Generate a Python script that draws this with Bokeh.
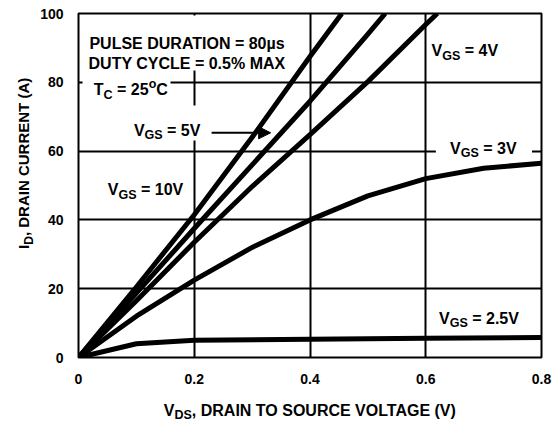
from math import pi
from bokeh.plotting import figure
from bokeh.models import Range1d, Label, Arrow, NormalHead
from bokeh.layouts import column, row
from bokeh.embed import file_html
from bokeh.resources import INLINE

# ---- data ----
VDS_10V = [0, 0.1, 0.2, 0.3, 0.4, 0.455]
ID_10V = [0, 20.5, 41.5, 64, 87.5, 100]
VDS_5V = [0, 0.1, 0.2, 0.3, 0.4, 0.5, 0.53]
ID_5V = [0, 18.7, 37.5, 56, 74.5, 94, 100]
VDS_4V = [0, 0.1, 0.2, 0.3, 0.4, 0.5, 0.6, 0.62]
ID_4V = [0, 16.5, 33.5, 49.7, 64.8, 80.2, 96.8, 100]
VDS_3V = [0, 0.1, 0.2, 0.3, 0.4, 0.5, 0.6, 0.7, 0.8]
ID_3V = [0, 12, 22.5, 32, 40, 47, 52, 55, 56.5]
VDS_25V = [0, 0.1, 0.2, 0.4, 0.6, 0.8]
ID_25V = [0, 4, 5, 5.3, 5.6, 5.8]

X_TICKS = [0, 0.2, 0.4, 0.6, 0.8]
X_TICK_LABELS = ["0", "0.2", "0.4", "0.6", "0.8"]
Y_TICKS = [0, 20, 40, 60, 80, 100]
Y_TICK_LABELS = ["0", "20", "40", "60", "80", "100"]

FONT = "Liberation Sans"
NB = "\u00a0"

# Arial/Liberation Sans Bold advance widths (per 1000 em)
AW = {" ": 278, NB: 278, ",": 278, ".": 278, "(": 333, ")": 333, "=": 584, "%": 889,
      "o": 611, "s": 556}
for c in "0123456789":
    AW[c] = 556
AW.update({"A": 722, "B": 722, "C": 722, "D": 722, "E": 667, "F": 611, "G": 778,
           "H": 722, "I": 278, "L": 611, "M": 833, "N": 722, "O": 778, "P": 667,
           "R": 722, "S": 667, "T": 611, "U": 722, "V": 667, "X": 667, "Y": 667})


def tw(s, size):
    return sum(AW.get(c, 600) for c in s) * size / 1000.0


def rich(p, x, y, parts, size=16, sub_size=12.5, rotated=False):
    off = 0.0
    for text, kind in parts:
        text = text.replace(" ", NB)
        fs = size if kind == "n" else sub_size
        dy = 0 if kind == "n" else (-5 if kind == "sub" else 6)
        if not rotated:
            lab = Label(x=x, y=y, x_offset=off, y_offset=dy, text=text)
        else:
            lab = Label(x=x, y=y, x_offset=-dy, y_offset=off, text=text, angle=pi / 2)
        lab.text_font = FONT
        lab.text_font_style = "bold"
        lab.text_font_size = f"{fs}px"
        lab.text_color = "black"
        lab.text_align = "left"
        lab.text_baseline = "alphabetic"
        p.add_layout(lab)
        off += tw(text, fs)


def blank(w, h):
    f = figure(width=w, height=h, x_range=Range1d(0, w), y_range=Range1d(0, h),
               output_backend="svg", toolbar_location=None, min_border=0,
               x_axis_location=None, y_axis_location=None)
    f.outline_line_color = None
    f.grid.visible = False
    f.background_fill_color = "white"
    f.border_fill_color = "white"
    return f


YW = 34
PW = 525
MAIN_H = 397
XH = 25

p = figure(width=PW, height=MAIN_H, x_range=Range1d(0, 0.8), y_range=Range1d(0, 100),
           output_backend="svg", toolbar_location=None,
           min_border_left=44, min_border_right=18, min_border_top=13, min_border_bottom=40)
p.background_fill_color = "white"
p.border_fill_color = "white"
p.outline_line_color = "black"
p.outline_line_width = 2
p.outline_line_alpha = 1

p.xaxis.ticker = X_TICKS
p.yaxis.ticker = Y_TICKS
p.xaxis.major_label_overrides = dict(zip(X_TICKS, X_TICK_LABELS))
p.yaxis.major_label_overrides = dict(zip(Y_TICKS, Y_TICK_LABELS))
for ax in (p.xaxis, p.yaxis):
    ax.axis_line_color = None
    ax.major_tick_line_color = None
    ax.minor_tick_line_color = None
    ax.major_tick_in = 0
    ax.major_tick_out = 0
    ax.major_label_text_font = FONT
    ax.major_label_text_font_style = "bold"
    ax.major_label_text_font_size = "14px"
    ax.major_label_text_color = "black"
p.yaxis.major_label_standoff = 15
p.xaxis.major_label_standoff = 16

for g in (p.xgrid, p.ygrid):
    g.grid_line_color = "black"
    g.grid_line_width = 2
    g.grid_line_alpha = 1

# white masks behind the annotations (grid breaks)
p.quad(left=[0.012, 0.007, 0.081, 0.6175], right=[0.367, 0.159, 0.22, 0.7836],
       bottom=[83.4, 76.74, 63.08, 58.43], top=[99.4, 82.85, 73.26, 66.57],
       fill_color="white", line_color=None)

for xs, ys in ((VDS_10V, ID_10V), (VDS_5V, ID_5V), (VDS_4V, ID_4V),
               (VDS_3V, ID_3V), (VDS_25V, ID_25V)):
    p.line(xs, ys, line_width=5, line_color="black", line_join="round")

# annotations
for txt, yy in (("PULSE DURATION = 80\u00b5s", 91.37), ("DUTY CYCLE = 0.5% MAX", 85.38)):
    p.add_layout(Label(x=0.1875, y=yy, text=txt, text_font=FONT, text_font_style="bold",
                       text_font_size="16px", text_color="black", text_align="center",
                       text_baseline="alphabetic"))

rich(p, 0.0265, 77.82, [("T", "n"), ("C", "sub"), (" = 25", "n"), ("o", "sup"), ("C", "n")])
rich(p, 0.0957, 65.99, [("V", "n"), ("GS", "sub"), (" = 5V", "n")])
rich(p, 0.0507, 48.75, [("V", "n"), ("GS", "sub"), (" = 10V", "n")])
rich(p, 0.610, 89.24, [("V", "n"), ("GS", "sub"), (" = 4V", "n")])
rich(p, 0.642, 60.84, [("V", "n"), ("GS", "sub"), (" = 3V", "n")])
rich(p, 0.623, 11.42, [("V", "n"), ("GS", "sub"), (" = 2.5V", "n")])

p.add_layout(Arrow(end=NormalHead(size=12, fill_color="black", line_color="black", line_width=1),
                   x_start=0.230, y_start=65.32, x_end=0.332, y_end=65.32,
                   line_width=2, line_color="black"))

# axis titles in their own strips
yfig = blank(YW, MAIN_H)
rich(yfig, 23, 125.3, [("I", "n"), ("D", "sub"), (", DRAIN CURRENT (A)", "n")],
     size=15, sub_size=12, rotated=True)

xfig = blank(YW + PW, XH)
rich(xfig, 163.3, 12.5, [("V", "n"), ("DS", "sub"), (", DRAIN TO SOURCE VOLTAGE (V)", "n")])

layout = column(row(yfig, p, spacing=0), xfig, spacing=0)
open("out.html", "w").write(file_html(layout, INLINE))
